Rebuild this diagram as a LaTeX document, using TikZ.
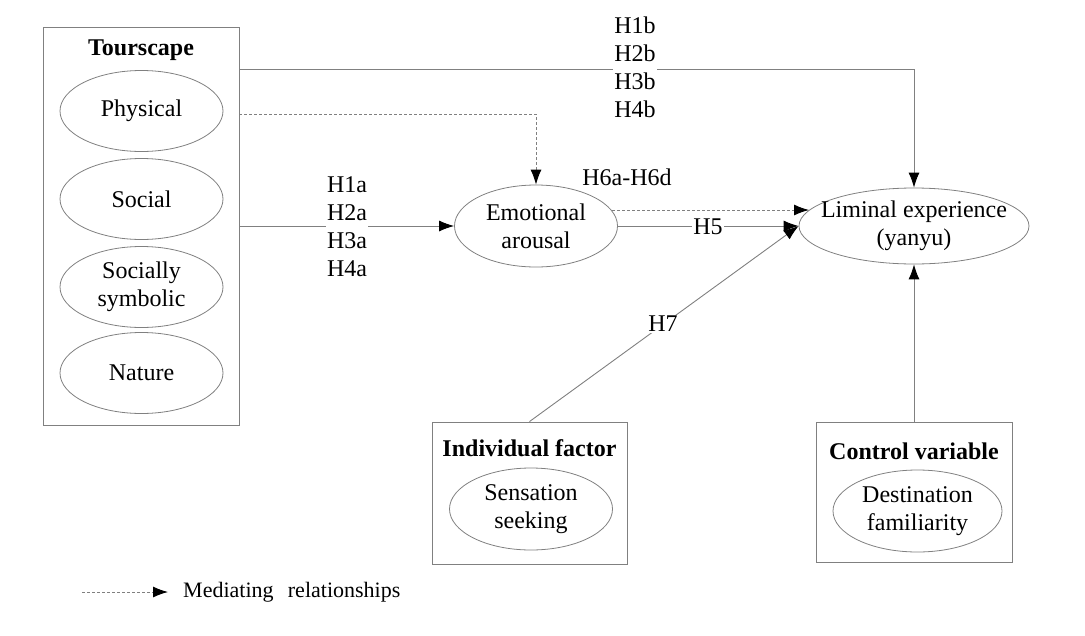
\documentclass[tikz,border=0pt]{standalone}
\usepackage{fontspec}
\setmainfont{Liberation Serif}
\usetikzlibrary{shapes.geometric,arrows.meta}
\definecolor{lc}{RGB}{128,128,128}
\newcommand{\zw}[1]{\makebox[0pt]{#1}}
\begin{document}
\begin{tikzpicture}[x=1pt,y=-1pt,
  font=\fontsize{24}{28}\selectfont,
  frame/.style={draw=lc,line width=0.9pt,rectangle,inner sep=0pt},
  ell/.style={draw=lc,line width=0.8pt,ellipse,inner sep=0pt,align=center,minimum width=163pt,minimum height=81pt},
  conn/.style={draw=lc,line width=0.9pt,-{Latex[length=15pt,width=11pt,color=black]}},
  med/.style={conn,dash pattern=on 3pt off 2pt},
  lbl/.style={fill=white,inner sep=1.5pt,align=center},
  ttl/.style={font=\fontsize{24}{28}\selectfont\bfseries}]
\useasboundingbox (0,0) rectangle (1085,635);
% Tourscape
\node[frame,minimum width=196pt,minimum height=398pt] (tour) at (141,226) {};
\node[ttl] (tourt) at (141,50) {Tourscape};
\node[ell] (phys) at (141.5,111) {Physical};
\node[ell] (soc) at (141.5,199) {Social};
\node[ell] (ssym) at (141.5,287) {Socially\\symbolic};
\node[ell] (nat) at (141.5,373) {Nature};
% central
\node[ell,minimum width=163pt,minimum height=82pt] (emo) at (536,226) {Emotional\\arousal};
\node[ell,minimum width=230pt,minimum height=76pt] (lim) at (914,226) {\zw{Liminal experience}\\\zw{(yanyu)}};
% Individual factor
\node[frame,minimum width=195pt,minimum height=142pt] (ind) at (529.5,493) {};
\node[ttl] (indt) at (529.5,448) {Individual factor};
\node[ell,minimum width=163pt,minimum height=82pt] (sens) at (531,509) {Sensation\\seeking};
% Control variable
\node[frame,minimum width=196pt,minimum height=140pt] (ctrl) at (914,492) {};
\node[ttl] (ctrlt) at (914,451) {Control variable};
\node[ell,minimum width=169pt,minimum height=82pt] (dest) at (917.5,511) {Destination\\familiarity};
% connector coordinates
\coordinate (t1) at (239,69);
\coordinate (t2) at (239,114);
\coordinate (e1) at (612,210);
\coordinate (l1) at (809,210);
% connectors
\draw[conn] (t1) -| (lim.north);
\draw[med] (t2) -| (emo.north);
\draw[conn] (tour.east) -- (emo.west);
\draw[med] (e1) -- (l1);
\draw[conn] (emo.east) -- (lim.west);
\draw[conn] (ind.north) -- (lim.west);
\draw[conn] (ctrl.north) -- (lim.south);
% labels
\node[lbl] (hb) at (635,67) {H1b\\H2b\\H3b\\H4b};
\node[lbl] (ha) at (347,226.5) {H1a\\H2a\\H3a\\H4a};
\node (h6) at (627,177) {H6a-H6d};
\node[lbl] (h5) at (708,227) {H5};
\node[lbl] (h7) at (663,324) {H7};
% legend
\coordinate (lg1) at (82,592);
\coordinate (lg2) at (168,592);
\draw[med] (lg1) -- (lg2);
\node[anchor=west,inner sep=0pt,font=\fontsize{22}{26}\selectfont] (lgt) at (183,592) {Mediating\hspace{0.4em} relationships};
\end{tikzpicture}
\end{document}
